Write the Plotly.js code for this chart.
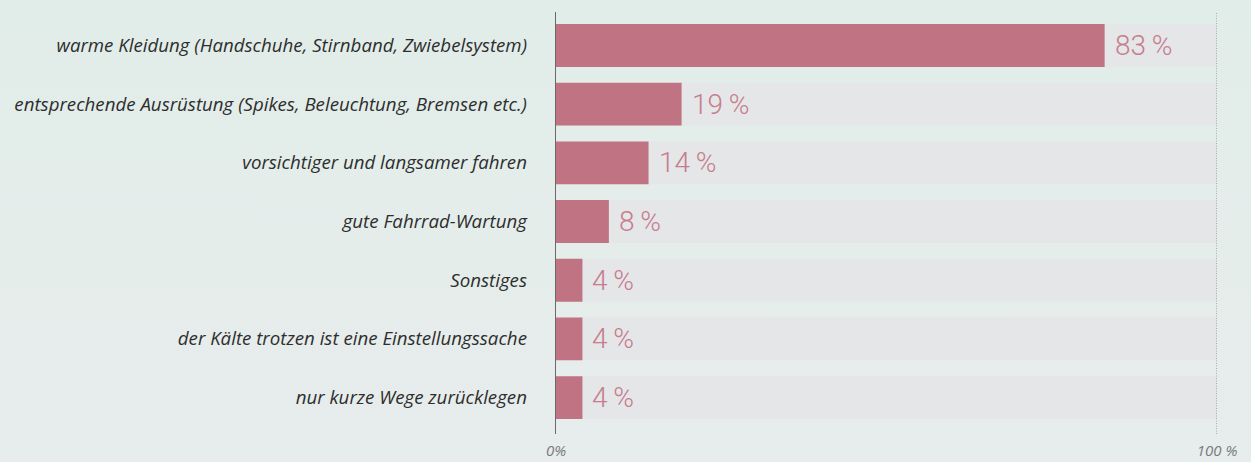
<!DOCTYPE html>
<html><head><meta charset="utf-8">
<script src="https://cdn.plot.ly/plotly-3.0.1.min.js"></script>
<style>
html,body{margin:0;padding:0;}
body{background:linear-gradient(to bottom,#e1ede9 0%,#e5edeb 60%,#e7ecec 100%);width:1251px;height:462px;overflow:hidden;}
#chart{width:1251px;height:462px;}
</style>
</head><body><div id="chart"></div>
<script>
const categories = [
  "warme Kleidung (Handschuhe, Stirnband, Zwiebelsystem)",
  "entsprechende Ausrüstung (Spikes, Beleuchtung, Bremsen etc.)",
  "vorsichtiger und langsamer fahren",
  "gute Fahrrad-Wartung",
  "Sonstiges",
  "der Kälte trotzen ist eine Einstellungssache",
  "nur kurze Wege zurücklegen"
];
const values = [83, 19, 14, 8, 4, 4, 4];
const fullScale = [100, 100, 100, 100, 100, 100, 100];
const tickVals = [0, 100];
const tickText = ["0%", "100 %"];

const bgTrace = {
  type: 'bar', orientation: 'h', y: categories, x: fullScale,
  marker: {color: '#e5e6e8'}, hoverinfo: 'skip', showlegend: false
};
const valTrace = {
  type: 'bar', orientation: 'h', y: categories, x: values,
  marker: {color: '#c07483'}, hoverinfo: 'skip', showlegend: false
};

const annotations = values.map((v, i) => ({
  x: v, y: categories[i], xref: 'x', yref: 'y',
  text: v + '\u2009%', showarrow: false, xanchor: 'left', yanchor: 'middle',
  xshift: 8,
  font: {family: 'Roboto', size: 28, weight: 300, color: '#c77d8d'}
}));

const layout = {
  width: 1251, height: 462,
  margin: {l: 556, r: 34, t: 12, b: 28},
  paper_bgcolor: 'rgba(0,0,0,0)', plot_bgcolor: 'rgba(0,0,0,0)',
  barmode: 'overlay', bargap: 0.27,
  xaxis: {
    range: [0, 100], tickvals: tickVals, ticktext: tickText,
    showgrid: false, zeroline: false, showline: false, ticks: '',
    tickfont: {family: 'Open Sans', size: 15, style: 'italic', color: '#7a7a7a'},
    ticklabelstandoff: 6, fixedrange: true
  },
  yaxis: {
    type: 'category', categoryorder: 'array', categoryarray: categories,
    range: [6.62, -0.57],
    showgrid: false, zeroline: false, showline: true, linecolor: '#6a6a6a', linewidth: 1.3,
    ticks: '', ticklabelstandoff: 24,
    tickfont: {family: 'Open Sans', size: 18.7, style: 'italic', color: '#2e2e2e'},
    fixedrange: true
  },
  shapes: [{
    type: 'line', xref: 'x', yref: 'paper', x0: 100, x1: 100, y0: 0, y1: 1,
    line: {color: '#6f6f6f', width: 1, dash: '1px,1.5px'}
  }],
  annotations: annotations
};

Plotly.newPlot('chart', [bgTrace, valTrace], layout, {displayModeBar: false, staticPlot: true});
</script>
</body></html>
